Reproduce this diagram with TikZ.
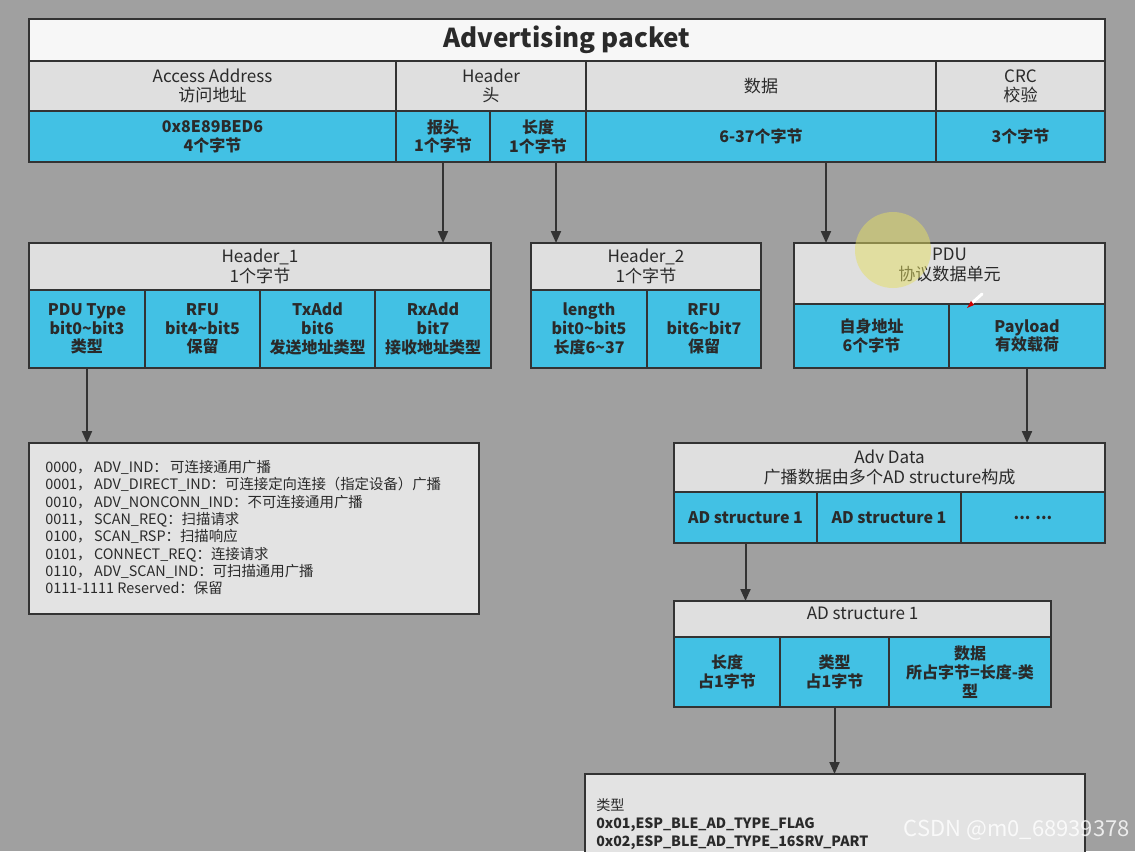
\documentclass[tikz,border=0pt]{standalone}
\usepackage{fontspec}
\setmainfont{Noto Sans CJK SC}
\usetikzlibrary{arrows.meta}
\definecolor{bg}{HTML}{A0A0A0}
\definecolor{cellblue}{HTML}{42C1E4}
\definecolor{cellgray}{HTML}{DFDFDF}
\definecolor{titlew}{HTML}{F7F7F7}
\definecolor{listbg}{HTML}{E3E3E3}
\definecolor{edge}{HTML}{333333}
\definecolor{ink}{HTML}{2A2A2A}
\definecolor{hilite}{HTML}{E4DE62}
\tikzset{
  box/.style={draw=edge, line width=1.5pt, inner sep=0pt, outer sep=0pt,
    align=center, text=ink},
  sz/.style 2 args={minimum width=#1*0.75pt, minimum height=#2*0.75pt},
  graycell/.style={box, fill=cellgray, font=\fontsize{12.8}{14.5}\selectfont},
  graytext/.style={align=center, text=ink, inner sep=0pt, font=\fontsize{12.8}{14.5}\selectfont},
  bluecell/.style={box, fill=cellblue, font=\bfseries\fontsize{12}{14}\selectfont},
  listbox/.style={box, fill=listbg},
  listtext/.style={anchor=north west, align=left, text=ink, inner sep=0pt,
    font=\fontsize{10.8}{13}\selectfont},
  arr/.style={draw=edge, line width=1.5pt, -{Triangle[length=9pt,width=7.5pt]}},
}
\begin{document}
\begin{tikzpicture}[x=0.75pt, y=-0.75pt]
\fill[bg] (0,0) rectangle (1135,851);
\clip (0,0) rectangle (1135,851);

% ---- Advertising packet ----
\node[box, fill=titlew, sz={1076}{42}, font=\bfseries\fontsize{19.5}{24}\selectfont] (title) at (567,40) {Advertising packet};
\node[graycell, sz={367}{50}] (aa)   at (212.5,86) {Access Address\\访问地址};
\node[graycell, sz={190}{50}] (hdr)  at (491,86)   {Header\\头};
\node[graycell, sz={350}{50}] (dat)  at (761,86)   {数据};
\node[graycell, sz={169}{50}] (crc)  at (1020.5,86) {CRC\\校验};
\node[bluecell, sz={367}{51}] (aav)  at (212.5,136.5) {0x8E89BED6\\4个字节};
\node[bluecell, sz={94}{51}]  (bt)   at (443,136.5) {报头\\1个字节};
\node[bluecell, sz={96}{51}]  (len)  at (538,136.5) {长度\\1个字节};
\node[bluecell, sz={350}{51}] (datv) at (761,136.5) {6-37个字节};
\node[bluecell, sz={169}{51}] (crcv) at (1020.5,136.5) {3个字节};

% ---- Header_1 ----
\node[graycell, sz={462}{47}] (h1t) at (260,266.5) {Header\_1\\1个字节};
\node[bluecell, sz={116}{78}] (h1a) at (87,329)    {PDU Type\\bit0\textasciitilde bit3\\类型};
\node[bluecell, sz={115}{78}] (h1b) at (202.5,329) {RFU\\bit4\textasciitilde bit5\\保留};
\node[bluecell, sz={115}{78}] (h1c) at (317.5,329) {TxAdd\\bit6\\发送地址类型};
\node[bluecell, sz={116}{78}] (h1d) at (433,329)   {RxAdd\\bit7\\接收地址类型};

% ---- Header_2 ----
\node[graycell, sz={230}{47}] (h2t) at (646,266.5) {Header\_2\\1个字节};
\node[bluecell, sz={116}{78}] (h2a) at (589,329) {length\\bit0\textasciitilde bit5\\长度6\textasciitilde 37};
\node[bluecell, sz={114}{78}] (h2b) at (704,329) {RFU\\bit6\textasciitilde bit7\\保留};

% ---- PDU ----
\node[graycell, sz={311}{61}] (pdut) at (949.5,273.5) {};
\node[graytext] (pdutxt) at (949.5,265) {PDU\\协议数据单元};
\node[bluecell, sz={155}{64}] (own)  at (871.5,336) {自身地址\\6个字节};
\node[bluecell, sz={156}{64}] (pay)  at (1027,336)  {Payload\\有效载荷};

% ---- PDU type list ----
\node[listbox, sz={450}{171}] (types) at (254,528.5) {};
\node[listtext] (typestxt) at (45,460) {0000，\,ADV\_IND：\,可连接通用广播\\
0001，\,ADV\_DIRECT\_IND：可连接定向连接（指定设备）广播\\
0010，\,ADV\_NONCONN\_IND：不可连接通用广播\\
0011，\,SCAN\_REQ：扫描请求\\
0100，\,SCAN\_RSP：扫描响应\\
0101，\,CONNECT\_REQ：连接请求\\
0110，\,ADV\_SCAN\_IND：可扫描通用广播\\
0111-1111 Reserved：保留};

% ---- Adv Data ----
\node[graycell, sz={431}{49}] (advt) at (889.5,467.5) {Adv Data\\广播数据由多个AD structure构成};
\node[bluecell, sz={143}{51}] (ad1) at (745.5,517.5) {AD structure 1};
\node[bluecell, sz={144}{51}] (ad2) at (889,517.5)   {AD structure 1};
\node[bluecell, sz={144}{51}] (ad3) at (1033,517.5)  {... ...};

% ---- AD structure ----
\node[graycell, sz={377}{36}] (adst) at (862.5,619) {};
\node[graytext] (adsttxt) at (862.5,613) {AD structure 1};
\node[bluecell, sz={106}{70}] (adl) at (727,672)   {长度\\占1字节};
\node[bluecell, sz={109}{70}] (adk) at (834.5,672) {类型\\占1字节};
\node[bluecell, sz={162}{70}] (add) at (970,672)   {数据\\所占字节=长度-类\\型};

% ---- AD type list ----
\node[listbox, sz={500}{100}] (adtypes) at (835,824) {};
\node[listtext, font=\fontsize{10.6}{13.5}\selectfont] (adtypestxt) at (596,798) {类型\\
\bfseries 0x01,ESP\_BLE\_AD\_TYPE\_FLAG\\
\bfseries 0x02,ESP\_BLE\_AD\_TYPE\_16SRV\_PART};

% ---- connectors ----
\draw[arr] (bt.south) -- (bt.south |- h1t.north);
\coordinate (lenout) at (556,162);
\draw[arr] (lenout) -- (lenout |- h2t.north);
\coordinate (datout) at (826,162);
\draw[arr] (datout) -- (datout |- pdut.north);
\draw[arr] (h1a.south) -- (h1a.south |- types.north);
\draw[arr] (pay.south) -- (pay.south |- advt.north);
\draw[arr] (ad1.south) -- (ad1.south |- adst.north);
\draw[arr] (adk.south) -- (adk.south |- adtypes.north);

% ---- pointer highlight and pen cursor ----
\fill[hilite, opacity=0.5] (893,250) circle[radius=38];
\draw[white, line width=2.2pt, line cap=round] (972,303) -- (982,294);
\fill[red!80!black] (967,308) -- (971,301) -- (974,305) -- cycle;

% ---- watermark ----
\node[text=white, opacity=0.8, anchor=east, inner sep=0pt,
  font=\fontsize{16.5}{19}\selectfont] (wm) at (1130,830) {CSDN @m0\_68939378};
\end{tikzpicture}
\end{document}
